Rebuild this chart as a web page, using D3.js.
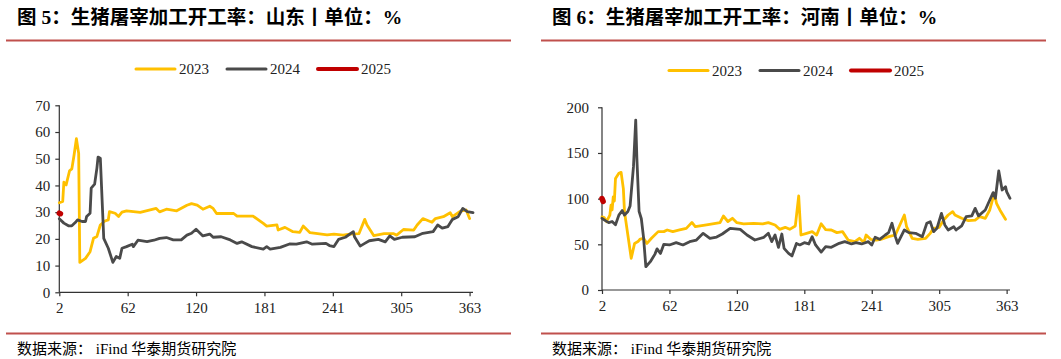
<!DOCTYPE html>
<html><head><meta charset="utf-8">
<script src="https://cdn.jsdelivr.net/npm/d3@7"></script>
<style>
html,body{margin:0;padding:0;background:#fff;}
svg{display:block;}
</style></head>
<body>
<svg id="chart" width="1061" height="359"></svg>
<script>
// ---------- data ----------
const seriesNames = ["2023", "2024", "2025"];
const seriesColors = ["#FFC000", "#4A4A4A", "#C00000"];
const tickLabels = ["2", "62", "120", "181", "241", "305", "363"];
const tickIdx = [0, 60, 120, 180, 240, 300, 360];
const sdTicks = [0, 10, 20, 30, 40, 50, 60, 70];
const hnTicks = [0, 50, 100, 150, 200];
const titles = ["图 5：生猪屠宰加工开工率：山东丨单位：%", "图 6：生猪屠宰加工开工率：河南丨单位：%"];
const sourceText = "数据来源：  iFind 华泰期货研究院";

// Shandong [index, value]
const sd2023 = [[0,33.5],[3,34],[4,41.2],[6,40.2],[9,45.5],[11,46.2],[13,51.5],[15,57.5],[17,52],[18,11.2],[23,12.7],[27,15.2],[30,20.2],[33,20.9],[36,25.2],[40,26.7],[43,27.1],[44,30.2],[49,29.6],[52,28.4],[55,30],[59,30.5],[71,29.9],[85,31.4],[88,30.1],[94,31.1],[103,30.5],[112,32.6],[116,33.2],[121,32.6],[126,31.1],[132,32.2],[135,31.4],[138,29.5],[153,29.5],[156,28.5],[170,28.5],[179,25.8],[182,24.8],[191,25.2],[192,23.3],[198,24.3],[205,22.7],[211,22.4],[214,24.8],[220,22.3],[235,21.5],[241,21.8],[249,21.4],[255,21.8],[263,22.0],[268,27.3],[270,25.2],[276,21.2],[285,22],[293,22],[296,21.4],[302,23.5],[311,23.3],[314,25.2],[319,27.6],[327,26.2],[330,27.6],[337,28.3],[343,29.8],[345,28.3],[352,30.4],[357,30.8],[360,27.6]];
const sd2024 = [[0,27.5],[4,25.9],[8,24.9],[11,24.9],[14,26.1],[16,27.1],[20,26.5],[23,26.5],[24,28.4],[27,29.6],[28,39],[31,40.5],[33,46.5],[34,50.6],[36,50.2],[39,20.2],[43,16.5],[47,11.2],[50,13.4],[53,12.7],[55,16.5],[59,17.1],[64,18],[65,17.1],[69,19.5],[77,19],[83,19.5],[88,20.2],[94,20.5],[100,19.6],[107,19.6],[112,21.4],[116,22.1],[120,23.6],[126,21.1],[132,21.8],[135,20.6],[142,20.8],[150,19.6],[156,18.3],[160,18.9],[169,17.1],[179,16.2],[182,17.1],[185,16.2],[194,16.8],[202,18.1],[208,18],[217,18.9],[222,18],[234,18.3],[237,17.5],[241,17.1],[245,19.8],[251,20.6],[258,22.7],[259,20.8],[264,17.3],[268,18.3],[272,19.3],[280,19.8],[286,18.9],[290,21.1],[294,19.8],[301,20.6],[312,20.8],[319,22.1],[328,22.7],[332,25.2],[336,24],[341,24.6],[345,27.3],[350,28.3],[354,31.4],[358,30.2],[363,29.8]];
const sd2025 = [[0,29.6],[1,29.4]];

// Henan [index, value]
const hn2023 = [[0,80],[2,79.2],[4,74.8],[7,82],[8,93],[9,87.6],[10,102],[11,97.4],[12,122],[15,127.7],[17,128.8],[19,111],[20,85.8],[23,60.2],[26,34.7],[29,51],[32,53],[34,55.8],[37,56.6],[40,51],[44,56.6],[50,63.9],[55,63.9],[58,65.7],[63,63.9],[69,65.7],[75,67.5],[80,74],[83,69.3],[93,71.2],[105,73.7],[108,81],[112,75],[116,78.5],[120,73.7],[126,72.3],[135,72.9],[143,72.3],[148,73.7],[154,71.2],[158,66.4],[163,68.6],[167,66.4],[172,70.1],[175,102.9],[177,60.2],[182,62],[187,63.9],[191,60.2],[195,72.5],[199,66],[204,65.7],[209,62.8],[214,63.9],[219,54.7],[225,52.9],[229,56.6],[233,52],[235,60.2],[239,55.5],[244,54.7],[248,55.5],[255,58.4],[261,60.2],[265,71.2],[269,82.1],[271,69.3],[276,56.6],[281,55.5],[288,56.6],[292,62],[295,67.5],[300,68.6],[304,76.6],[308,82.1],[312,85.8],[314,82.1],[320,78.5],[326,75.9],[332,76.6],[336,80.3],[341,78.5],[345,87.6],[349,105.8],[351,94.9],[354,87.6],[359,77.4]];
const hn2024 = [[0,78.5],[3,76],[6,73.7],[9,75],[12,71.5],[15,82],[18,87],[20,82],[23,86],[25,92],[28,135],[30,186],[31,145],[33,86],[35,78],[37,57],[39,25.5],[43,31],[47,39],[49,45],[52,40],[55,50],[60,49.3],[66,51.8],[72,49.3],[78,52.9],[84,54.7],[90,62],[96,56.6],[102,58],[107,61.3],[114,67.5],[123,66.4],[129,60.2],[136,54.7],[144,57.7],[148,62.1],[151,53],[154,60.2],[157,46.7],[160,61.3],[162,45.6],[166,40.1],[169,37.3],[173,51],[176,49.3],[180,51.8],[184,50.4],[187,58.4],[190,49.3],[195,41.5],[199,47.5],[204,46.7],[211,51.1],[216,52.9],[222,50.4],[226,51.8],[231,50.4],[237,52.9],[240,49.3],[243,57.7],[247,55.5],[252,60.2],[255,62.8],[258,73],[261,58.4],[263,51.1],[266,58.4],[269,65.7],[273,62.8],[279,62],[285,58.4],[289,73],[292,74.8],[295,63.9],[298,67.5],[302,83.9],[305,71.2],[308,65.7],[313,69.3],[315,65.7],[320,70.1],[324,80.3],[329,81.1],[332,89.4],[335,81.1],[341,87.6],[345,98.5],[348,106.6],[350,100.4],[353,130.3],[356,109.5],[359,113.1],[360,107.7],[363,100.4]];
const hn2025 = [[0,100],[1,97]];

// ---------- drawing ----------
const svg = d3.select("#chart");
const latin = "'Liberation Serif','Times New Roman','Noto Sans CJK SC',serif";

function panel(cfg) {
  const g = svg.append("g");
  // title
  g.append("text").attr("x", cfg.left + 11).attr("y", 23.5)
    .attr("font-family", latin).attr("font-weight", "bold").attr("font-size", 19.5)
    .attr("fill", "#000").text(cfg.title);
  // red rules
  g.append("line").attr("x1", cfg.left).attr("x2", cfg.left + 505).attr("y1", 40.5).attr("y2", 40.5)
    .attr("stroke", "#C0504D").attr("stroke-width", 2);
  g.append("line").attr("x1", cfg.left).attr("x2", cfg.left + 505).attr("y1", 333.5).attr("y2", 333.5)
    .attr("stroke", "#C0504D").attr("stroke-width", 2);
  // source
  g.append("text").attr("x", cfg.left + 11).attr("y", 353.5)
    .attr("font-family", latin).attr("font-size", 15).attr("fill", "#000").text(sourceText);

  const x = d3.scaleLinear().domain([0, 363]).range(cfg.xr);
  const y = d3.scaleLinear().domain(cfg.yd).range(cfg.yr);

  // axes
  const yAxis = d3.axisLeft(y).tickValues(cfg.yticks).tickSize(4).tickPadding(cfg.ypad).tickFormat(d3.format("d"));
  const xAxis = d3.axisBottom(x).tickValues(tickIdx).tickSize(4).tickPadding(6)
    .tickFormat((d, i) => tickLabels[i]);
  const ya = g.append("g").attr("transform", `translate(${cfg.xr[0]},0)`).call(yAxis);
  const xa = g.append("g").attr("transform", `translate(0,${cfg.yr[0]})`).call(xAxis);
  [ya, xa].forEach(a => {
    a.select(".domain").attr("stroke", "#333").attr("stroke-width", 1.2);
    a.selectAll(".tick line").attr("stroke", "#333").attr("stroke-width", 1.2);
    a.selectAll(".tick text").attr("font-family", latin).attr("font-size", 15).attr("fill", "#222");
  });
  ya.select(".domain").attr("d", `M0,${cfg.yr[0]}V${cfg.yr[1]}`);
  xa.select(".domain").attr("d", `M${cfg.xr[0]},0H${cfg.xr[1]}`);

  const line = d3.line().x(d => x(d[0])).y(d => y(d[1]));
  cfg.series.forEach((s, i) => {
    g.append("path").datum(s).attr("d", line).attr("fill", "none")
      .attr("stroke", seriesColors[i]).attr("stroke-width", i === 2 ? 5.5 : 2.8)
      .attr("stroke-linejoin", "round").attr("stroke-linecap", "round");
  });

  // legend
  const lg = g.append("g");
  seriesNames.forEach((n, i) => {
    const lx = cfg.legendX + i * 91;
    lg.append("line").attr("x1", lx).attr("x2", lx + 39).attr("y1", cfg.legendY).attr("y2", cfg.legendY)
      .attr("stroke", seriesColors[i]).attr("stroke-width", i === 2 ? 4 : 3).attr("stroke-linecap", "round");
    lg.append("text").attr("x", lx + 43).attr("y", cfg.legendY + 5)
      .attr("font-family", latin).attr("font-size", 15).attr("fill", "#222").text(n);
  });
}

panel({left: 6, title: titles[0], xr: [59.3, 473], yd: [0, 70], yr: [292.3, 105.3], yticks: sdTicks, ypad: 5,
  series: [sd2023, sd2024, sd2025], legendX: 136, legendY: 69});
panel({left: 541, title: titles[1], xr: [602, 1010], yd: [0, 200], yr: [290, 107.3], yticks: hnTicks, ypad: 9,
  series: [hn2023, hn2024, hn2025], legendX: 669, legendY: 70.5});
</script>
</body></html>
